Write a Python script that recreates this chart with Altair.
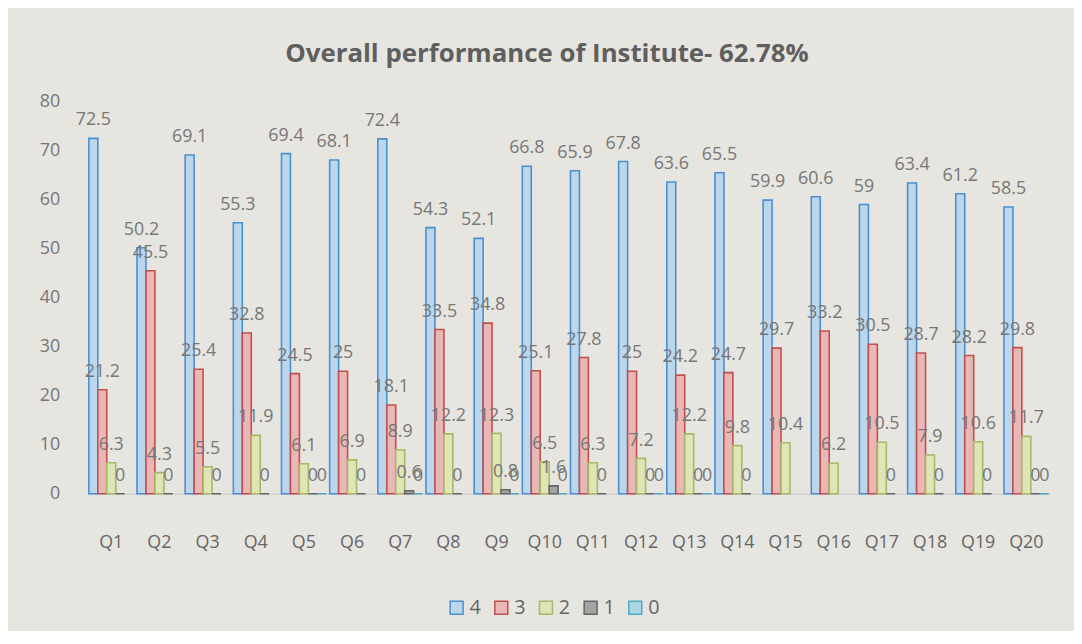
import altair as alt
import pandas as pd

questions = ["Q1", "Q2", "Q3", "Q4", "Q5", "Q6", "Q7", "Q8", "Q9", "Q10",
             "Q11", "Q12", "Q13", "Q14", "Q15", "Q16", "Q17", "Q18", "Q19", "Q20"]
series_names = ["4", "3", "2", "1", "0"]

s4 = [72.5, 50.2, 69.1, 55.3, 69.4, 68.1, 72.4, 54.3, 52.1, 66.8,
      65.9, 67.8, 63.6, 65.5, 59.9, 60.6, 59, 63.4, 61.2, 58.5]
s3 = [21.2, 45.5, 25.4, 32.8, 24.5, 25, 18.1, 33.5, 34.8, 25.1,
      27.8, 25, 24.2, 24.7, 29.7, 33.2, 30.5, 28.7, 28.2, 29.8]
s2 = [6.3, 4.3, 5.5, 11.9, 6.1, 6.9, 8.9, 12.2, 12.3, 6.5,
      6.3, 7.2, 12.2, 9.8, 10.4, 6.2, 10.5, 7.9, 10.6, 11.7]
s1 = [0, 0, 0, 0, 0, 0, 0.6, 0, 0.8, 1.6,
      0, 0, 0, 0, None, None, 0, 0, 0, 0]
s0 = [None, None, None, None, 0, None, 0, None, 0, 0,
      None, 0, 0, None, None, None, None, None, None, 0]

fills = ["#bcd6ec", "#e9b7b6", "#dfe5b4", "#a3a3a3", "#acd5e4"]
strokes = ["#4a8fd0", "#c0504d", "#a6b86a", "#666666", "#4bacc6"]

rows = []
for name, vals in zip(series_names, [s4, s3, s2, s1, s0]):
    for q, v in zip(questions, vals):
        rows.append({"q": q, "series": name, "value": v})
df = pd.DataFrame(rows)

FONT = "Open Sans"
TXT = "#777777"

x = alt.X("q:N", sort=questions, title=None,
          scale=alt.Scale(paddingInner=0.07, paddingOuter=0.03),
          axis=alt.Axis(labelAngle=0, labelFontSize=18, labelColor="#666666",
                        labelFont=FONT, labelPadding=40, ticks=False,
                        domain=True, domainColor="#c8c8c8"))
xo = alt.XOffset("series:N", sort=series_names, scale=alt.Scale(paddingInner=0))
y = alt.Y("value:Q", title=None,
          scale=alt.Scale(domain=[0, 80]),
          axis=alt.Axis(values=[0, 10, 20, 30, 40, 50, 60, 70, 80], labelFontSize=18,
                        labelColor=TXT, labelFont=FONT, labelPadding=28,
                        ticks=False, domain=False, grid=False))

legend = alt.Legend(title=None, orient="none", direction="horizontal",
                    legendX=362, legendY=500, symbolType="square",
                    symbolSize=170, labelFontSize=20, labelColor="#666666",
                    labelFont=FONT, columnPadding=10, labelOffset=3)

base = alt.Chart(df).transform_filter("datum.value != null")

bars = base.mark_bar(strokeWidth=1.6, opacity=1).encode(
    x=x, xOffset=xo, y=y,
    fill=alt.Fill("series:N", sort=series_names,
                  scale=alt.Scale(domain=series_names, range=fills), legend=legend),
    stroke=alt.Stroke("series:N", sort=series_names,
                      scale=alt.Scale(domain=series_names, range=strokes), legend=legend),
)

labels = base.mark_text(baseline="bottom", dy=-9, fontSize=18, color=TXT, font=FONT).encode(
    x=x, xOffset=xo, y=y,
    text=alt.Text("value:Q", format=".1~f"),
)

chart = (bars + labels).properties(
    width=970, height=395,
    title=alt.TitleParams("Overall performance of Institute- 62.78%", fontSize=26,
                          font=FONT, fontWeight="bold", color="#5f5f5f", offset=26, dx=-22),
    background="#e6e5e0",
    autosize=alt.AutoSizeParams(type="none"),
    padding={"left": 80, "top": 92, "right": 24, "bottom": 136},
).configure_view(stroke=None)

chart.save("out.html", embed_options={"renderer": "svg", "actions": False})
